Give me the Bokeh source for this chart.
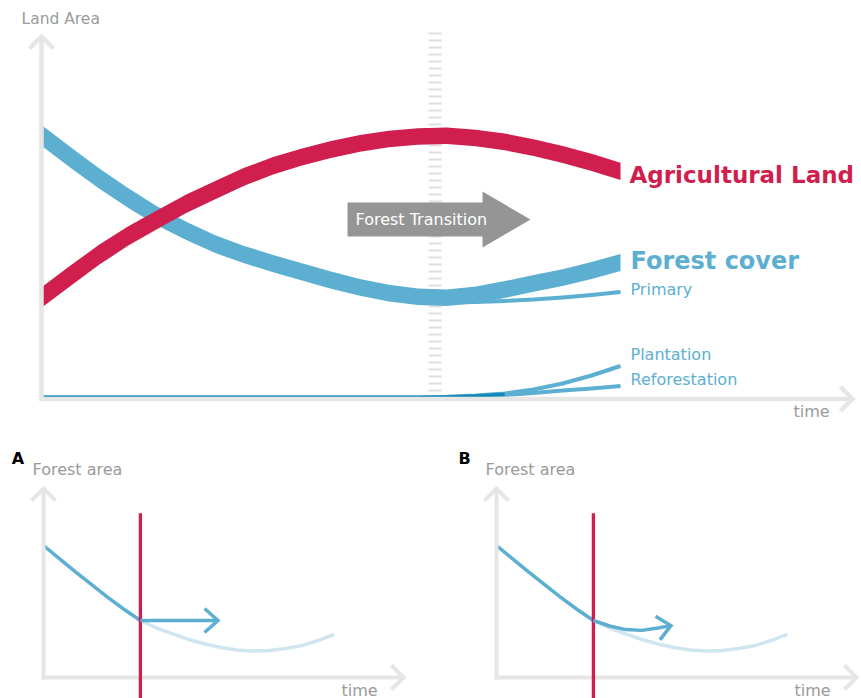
import math
import numpy as np
from bokeh.plotting import figure
from bokeh.layouts import column, row
from bokeh.models import Range1d
from bokeh.core.properties import value
from bokeh.embed import file_html
from bokeh.resources import INLINE

# ---------------- data: main panel ----------------
time = [0, 5, 10, 15, 20, 25, 30, 35, 40, 45, 50,
        55, 60, 65, 70, 75, 80, 85, 90, 95, 100]
agricultural_land = [27.8, 33.8, 39.7, 44.9, 49.4, 53.8, 57.6, 61.3, 64.4, 66.8, 68.9,
                     70.6, 71.8, 72.5, 72.7, 72.1, 71.0, 69.4, 67.5, 65.3, 62.8]
forest_cover = [72.8, 66.7, 60.8, 55.4, 50.4, 46.3, 42.6, 39.7, 37.2, 34.9, 32.6,
                30.6, 29.0, 28.0, 27.7, 28.5, 30.0, 31.7, 33.3, 35.3, 37.5]
primary_time = [70, 75, 80, 85, 90, 95, 100]
primary_forest = [26.4, 26.5, 26.8, 27.2, 27.8, 28.5, 29.3]
plantation = [0, 0, 0, 0, 0, 0, 0, 0, 0, 0, 0,
              0, 0, 0, 0.19, 0.56, 1.11, 2.22, 3.89, 6.11, 8.75]
reforestation = [0, 0, 0, 0, 0, 0, 0, 0, 0, 0, 0,
                 0, 0, 0, 0.08, 0.28, 0.69, 1.25, 1.94, 2.5, 3.19]
transition_time = 68

# ---------------- data: small panels A / B ----------------
time_b = [0, 0.5, 1, 1.5, 2, 2.5, 3, 3.5, 4, 4.5, 5, 5.5, 6, 6.5, 7, 7.5, 8, 8.5, 9]
forest_area_b = [10.0, 8.98, 7.99, 7.01, 6.06, 5.15, 4.32, 3.75, 3.30, 2.88, 2.54,
                 2.27, 2.08, 2.01, 2.05, 2.20, 2.42, 2.80, 3.26]
intervention_time = 3
scenario_a_time = [3, 5.4]
scenario_a_area = [4.32, 4.32]
scenario_b_time = [3, 3.5, 4, 4.5, 5, 5.4]
scenario_b_area = [4.32, 3.9, 3.63, 3.57, 3.75, 3.93]

# ---------------- styles ----------------
RED = "#D01E4E"
BLUE = "#5DAFD2"
DARK_BLUE = "#1487B4"
LIGHT_BLUE = "#CFE6F1"
AXIS_GRAY = "#E6E6E6"
DASH_GRAY = "#E0E0E0"
TEXT_GRAY = "#9A9A9A"
ARROW_GRAY = "#959595"
FONT = value("DejaVu Sans")

# pixel geometry of the main panel (page pixels)
X0, SX = 41.0, 5.79     # time 0 at x=41, px per time unit
Y0, SY = 397.0, 3.6     # area 0 at y=397, px per area unit
PAGE_W = 861
TOP_H = 440
# small panels
XB0, SXB = 43.0, 32.3
YB0, SYB = 677.0, 13.2
A_W = 453
B_W = PAGE_W - A_W
BOT_H = 698 - TOP_H


def tx(xi):
    return (xi - X0) / SX


def ay(yi):
    return (Y0 - yi) / SY


def bx(xi):
    return (xi - XB0) / SXB


def by(yi):
    return (YB0 - yi) / SYB


def make_fig(w, h, xr, yr):
    p = figure(width=w, height=h, x_range=Range1d(*xr), y_range=Range1d(*yr),
               output_backend="svg", toolbar_location=None,
               x_axis_location=None, y_axis_location=None,
               min_border=0, min_border_left=0, min_border_right=0,
               min_border_top=0, min_border_bottom=0)
    p.grid.visible = False
    p.outline_line_color = None
    p.background_fill_color = "white"
    p.border_fill_color = "white"
    return p


def chevron(p, xt, yt, xp, yp, sx, sy, length, half_deg, color, width):
    dx = (xt - xp) * sx
    dy = (yt - yp) * sy
    ang = math.atan2(dy, dx)
    h = math.radians(half_deg)
    pts = []
    for s in (1, -1):
        a = ang + math.pi + s * h
        pts.append((xt + length * math.cos(a) / sx, yt + length * math.sin(a) / sy))
    p.line([pts[0][0], xt, pts[1][0]], [pts[0][1], yt, pts[1][1]],
           line_color=color, line_width=width, line_join="miter", line_cap="butt")


def band(t, v, width_px):
    t = np.asarray(t, float)
    v = np.asarray(v, float)
    slope = np.gradient(v * SY, t * SX)
    half = width_px / 2 * np.sqrt(1 + slope ** 2) / SY
    return v - half, v + half


def label(p, x, y, txt, color, size, bold=False):
    p.text(x=[x], y=[y], text=[txt], text_font=FONT, text_font_size=value(size),
           text_color=color, text_align="left", text_baseline="middle",
           text_font_style="bold" if bold else "normal")


# ================= main panel =================
top = make_fig(PAGE_W, TOP_H, (tx(0), tx(PAGE_W)), (ay(TOP_H), ay(0)))

# transition marker
top.line([transition_time, transition_time], [ay(32), ay(392)], line_color=DASH_GRAY,
         line_width=13, line_dash="2 5")

# forest cover & agricultural land bands
lo, hi = band(time, forest_cover, 16.5)
top.varea(x=time, y1=lo, y2=hi, fill_color=BLUE)
lo, hi = band(time, agricultural_land, 16.5)
top.varea(x=time, y1=lo, y2=hi, fill_color=RED)

# primary forest branch
top.line(primary_time, primary_forest, line_color=BLUE, line_width=4, line_join="round")

# plantation / reforestation
top.line(time, plantation, line_color=BLUE, line_width=4, line_join="round")
top.line(time, reforestation, line_color=BLUE, line_width=4, line_join="round")
pl = np.array(plantation, float)
rf = np.array(reforestation, float)
idx = np.where(np.abs(pl - rf) * SY < 3)[0]
base_t = [time[i] for i in idx]
base_v = [(pl[i] + rf[i]) / 2 for i in idx]
top.line(base_t, base_v, line_color=DARK_BLUE, line_width=3.5, line_join="round")

# axes with arrowheads
top.line([tx(41), tx(41)], [ay(400.5), ay(36)], line_color=AXIS_GRAY, line_width=4.5)
chevron(top, tx(41), ay(36), tx(41), ay(100), SX, SY, 17, 45, AXIS_GRAY, 4.5)
top.line([tx(39), tx(852)], [ay(398.4), ay(398.4)], line_color=AXIS_GRAY, line_width=4.5)
chevron(top, tx(852), ay(398.4), tx(800), ay(398.4), SX, SY, 17, 45, AXIS_GRAY, 4.5)

# forest transition arrow
ax = [tx(347), tx(482), tx(482), tx(530), tx(482), tx(482), tx(347)]
ayy = [ay(202), ay(202), ay(191), ay(219), ay(247), ay(236), ay(236)]
top.patch(ax, ayy, fill_color=ARROW_GRAY, line_color=None)
label(top, tx(355), ay(219), "Forest Transition", "white", "16px")

# texts (y = visual centre of the text)
label(top, tx(21), ay(18), "Land Area", TEXT_GRAY, "15.5px")
label(top, tx(793), ay(411), "time", TEXT_GRAY, "16px")
label(top, tx(629), ay(174.5), "Agricultural Land", RED, "23px", bold=True)
label(top, tx(630), ay(260), "Forest cover", BLUE, "24px", bold=True)
label(top, tx(630), ay(289), "Primary", BLUE, "16px")
label(top, tx(630), ay(353.5), "Plantation", BLUE, "16px")
label(top, tx(630), ay(378.5), "Reforestation", BLUE, "16px")


# ================= small panels =================
def small_panel(width, letter, letter_x, scen_t, scen_v):
    p = make_fig(width, BOT_H, (bx(0), bx(width)), (by(TOP_H + BOT_H), by(TOP_H)))
    tb = np.array(time_b, float)
    fb = np.array(forest_area_b, float)
    after = tb >= intervention_time
    before = tb <= intervention_time
    p.line(tb[after], fb[after], line_color=LIGHT_BLUE, line_width=3.5, line_join="round")
    p.line(tb[before], fb[before], line_color=BLUE, line_width=3.5, line_join="round")
    # axes
    p.line([bx(43), bx(43)], [by(679), by(488)], line_color=AXIS_GRAY, line_width=4)
    chevron(p, bx(43), by(488), bx(43), by(560), SXB, SYB, 17, 45, AXIS_GRAY, 4)
    p.line([bx(41), bx(403)], [by(677), by(677)], line_color=AXIS_GRAY, line_width=4)
    chevron(p, bx(403), by(677), bx(350), by(677), SXB, SYB, 17, 45, AXIS_GRAY, 4)
    # intervention
    p.line([intervention_time, intervention_time], [by(512.7), by(710)],
           line_color=RED, line_width=3.3)
    # scenario trajectory
    p.line(scen_t, scen_v, line_color=BLUE, line_width=3.5, line_join="round")
    chevron(p, scen_t[-1], scen_v[-1], scen_t[-2], scen_v[-2], SXB, SYB, 18, 42, BLUE, 3.5)
    # texts
    label(p, bx(letter_x), by(458), letter, "black", "16px", bold=True)
    label(p, bx(32), by(468.7), "Forest area", TEXT_GRAY, "16px")
    label(p, bx(341), by(689.5), "time", TEXT_GRAY, "16px")
    return p


pa = small_panel(A_W, "A", 11.2, scenario_a_time, scenario_a_area)
pb = small_panel(B_W, "B", 5.0, scenario_b_time, scenario_b_area)

layout = column(top, row(pa, pb, spacing=0), spacing=0)
open("out.html", "w").write(file_html(layout, INLINE))
